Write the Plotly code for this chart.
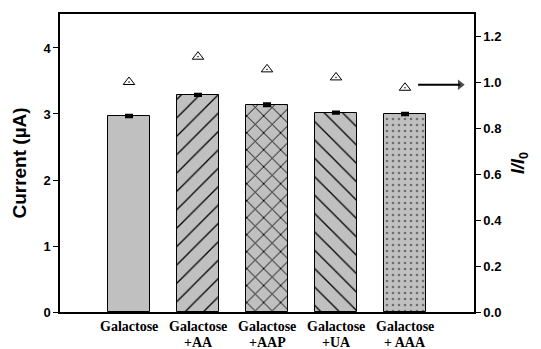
import plotly.graph_objects as go

# Sensor response to galactose alone and with interferents
label_top = ["Galactose", "Galactose", "Galactose", "Galactose", "Galactose"]
label_bottom = ["", "+AA", "+AAP", "+UA", "+ AAA"]
current = [2.97, 3.29, 3.14, 3.02, 3.00]          # µA
current_err = [0.01, 0.01, 0.015, 0.01, 0.01]
ratio = [1.00, 1.11, 1.055, 1.02, 0.975]         # I/I0
arrow_x = [4.19, 4.80]
arrow_y = [0.988, 0.988]

x = list(range(len(label_top)))
patterns = ["", "/", "x", "\\", "."]
pattern_fg = ["black", "black", "black", "black", "#6e6e6e"]

fig = go.Figure()
fig.add_trace(go.Bar(
    x=x, y=current, width=0.61,
    marker=dict(
        color="#c0c0c0",
        line=dict(color="black", width=1),
        pattern=dict(shape=patterns, fgcolor=pattern_fg, fgopacity=1, bgcolor="#c0c0c0",
                     size=[10, 13, 12, 13, 6], solidity=[0.2, 0.1, 0.15, 0.1, 0.15]),
    ),
    error_y=dict(type="data", array=current_err, color="black", thickness=3, width=4),
    showlegend=False,
))
fig.add_trace(go.Scatter(
    x=x, y=ratio, yaxis="y2", mode="markers",
    marker=dict(symbol="triangle-up-open-dot", size=10, color="black", line=dict(width=1)),
    showlegend=False,
))
# arrow pointing to the right-hand axis
fig.add_trace(go.Scatter(
    x=arrow_x, y=arrow_y, yaxis="y2", mode="lines+markers",
    line=dict(color="black", width=2),
    marker=dict(symbol=["line-ns", "triangle-right"], size=[0, 9], color="black",
                line=dict(width=0)),
    showlegend=False, hoverinfo="skip",
))

# two-line category labels under the bars
cat_font = dict(family="Liberation Serif, Times New Roman", size=14, color="black")
for xi, top, bottom in zip(x, label_top, label_bottom):
    fig.add_annotation(x=xi, y=0, xref="x", yref="paper", yanchor="middle",
                       yshift=-14, text=f"<b>{top}</b>", showarrow=False, font=cat_font)
    if bottom:
        fig.add_annotation(x=xi, y=0, xref="x", yref="paper", yanchor="middle",
                           yshift=-30, text=f"<b>{bottom}</b>", showarrow=False, font=cat_font)

tick_font = dict(family="Liberation Sans, Arial", size=13, color="black")
fig.update_layout(
    width=541, height=349,
    margin=dict(l=60, r=67, t=14, b=37),
    paper_bgcolor="white", plot_bgcolor="white",
    bargap=0,
    xaxis=dict(
        range=[-1, 5], showticklabels=False, automargin=False,
        showline=True, linecolor="black", linewidth=1.5, mirror=True,
        ticks="", showgrid=False, zeroline=False,
    ),
    yaxis=dict(
        range=[0, 4.515], tickvals=[0, 1, 2, 3, 4],
        ticktext=["<b>%d</b>" % v for v in [0, 1, 2, 3, 4]],
        tickfont=tick_font, ticks="outside", ticklen=5, tickcolor="black",
        showline=True, linecolor="black", linewidth=1.5,
        showgrid=False, zeroline=False, automargin=False,
        title=dict(text="<b>Current (µA)</b>", font=dict(family="Liberation Sans, Arial", size=19, color="black"), standoff=12),
    ),
    yaxis2=dict(
        overlaying="y", side="right",
        range=[0, 1.2957], tickvals=[0, 0.2, 0.4, 0.6, 0.8, 1.0, 1.2],
        ticktext=["<b>%.1f</b>" % v for v in [0, 0.2, 0.4, 0.6, 0.8, 1.0, 1.2]],
        tickfont=tick_font, ticks="outside", ticklen=5, tickcolor="black",
        showline=True, linecolor="black", linewidth=1.5,
        showgrid=False, zeroline=False, automargin=False,
        title=dict(text="<b><i>I/I</i><sub>0</sub></b>", font=dict(family="Liberation Sans, Arial", size=18, color="black"), standoff=10),
    ),
)

fig.write_html("out.html")
